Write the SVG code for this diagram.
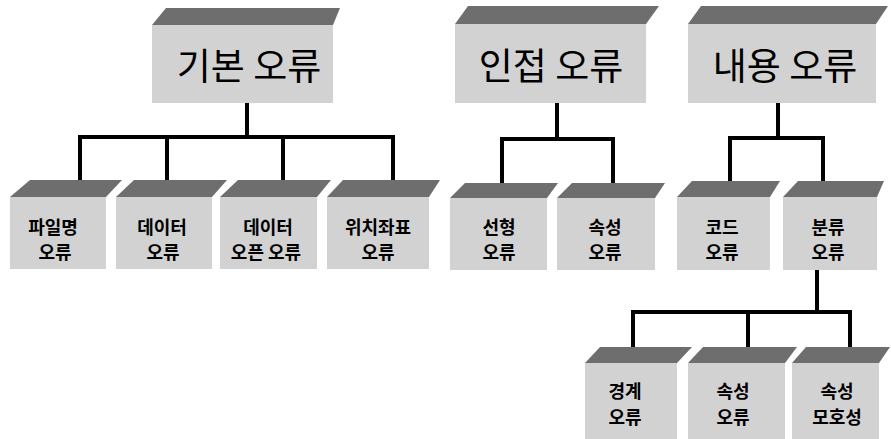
<svg xmlns="http://www.w3.org/2000/svg" width="891" height="439" viewBox="0 0 891 439">
<style>
.front{fill:#d2d2d2}
.top{fill:#6e6e6e}
.t1{font-family:"Noto Sans CJK KR","Noto Sans",sans-serif;font-size:37px;font-weight:400;fill:#000;text-anchor:middle}
.t2{font-family:"Noto Sans CJK KR","Noto Sans",sans-serif;font-size:18px;font-weight:700;fill:#000;text-anchor:middle}
.conn{fill:none;stroke:#000;stroke-width:4;stroke-linejoin:miter;stroke-linecap:butt}
</style>
<rect width="891" height="439" fill="#fff"/>
<g id="connectors" class="conn">
<path d="M247,103 V137 M80,181 V137 H393 V181 M167,137 V181 M283,137 V181"/>
<path d="M557,103 V139 M502,183 V139 H613 V183"/>
<path d="M778,103 V138 M730,181 V138 H823 V181"/>
<path d="M817,270 V312 M633,347 V312 H850 V347 M748,312 V347"/>
</g>
<g id="n-basic">
<polygon class="top" points="152,25 166,8 340,8 333,25"/>
<rect class="front" x="152" y="25" width="181" height="78"/>
<text class="t1" x="249" y="80">기본 오류</text>
</g>
<g id="n-adjacent">
<polygon class="top" points="455,24 468,6 659,6 646,24"/>
<rect class="front" x="455" y="24" width="191" height="79"/>
<text class="t1" x="551" y="80">인접 오류</text>
</g>
<g id="n-content">
<polygon class="top" points="688,24 701,6 888,6 876,24"/>
<rect class="front" x="688" y="24" width="188" height="79"/>
<text class="t1" x="785" y="80">내용 오류</text>
</g>
<g id="n-filename">
<polygon class="top" points="10,197 30,180 122,180 106,197"/>
<rect class="front" x="10" y="197" width="96" height="72"/>
<text class="t2" x="53" y="234">파일명</text>
<text class="t2" x="55" y="259">오류</text>
</g>
<g id="n-data">
<polygon class="top" points="116,197 134,180 227,180 212,197"/>
<rect class="front" x="116" y="197" width="96" height="72"/>
<text class="t2" x="162" y="234">데이터</text>
<text class="t2" x="163" y="259">오류</text>
</g>
<g id="n-dataopen">
<polygon class="top" points="220,197 238,180 331,180 317,197"/>
<rect class="front" x="220" y="197" width="97" height="72"/>
<text class="t2" x="268" y="234">데이터</text>
<text class="t2" x="266" y="259">오픈 오류</text>
</g>
<g id="n-position">
<polygon class="top" points="327,197 343,180 440,180 429,197"/>
<rect class="front" x="327" y="197" width="102" height="72"/>
<text class="t2" x="378" y="234">위치좌표</text>
<text class="t2" x="378" y="259">오류</text>
</g>
<g id="n-linear">
<polygon class="top" points="450,198 465,183 558,183 547,198"/>
<rect class="front" x="450" y="198" width="97" height="72"/>
<text class="t2" x="499" y="234">선형</text>
<text class="t2" x="499" y="259">오류</text>
</g>
<g id="n-attr1">
<polygon class="top" points="557,198 572,183 665,183 655,198"/>
<rect class="front" x="557" y="198" width="98" height="72"/>
<text class="t2" x="605" y="234">속성</text>
<text class="t2" x="605" y="259">오류</text>
</g>
<g id="n-code">
<polygon class="top" points="677,197 692,181 780,181 770,197"/>
<rect class="front" x="677" y="197" width="93" height="73"/>
<text class="t2" x="722" y="234">코드</text>
<text class="t2" x="722" y="259">오류</text>
</g>
<g id="n-class">
<polygon class="top" points="783,197 798,181 884,181 877,197"/>
<rect class="front" x="783" y="197" width="94" height="73"/>
<text class="t2" x="828" y="234">분류</text>
<text class="t2" x="828" y="259">오류</text>
</g>
<g id="n-boundary">
<polygon class="top" points="585,363 600,347 692,347 677,363"/>
<rect class="front" x="585" y="363" width="92" height="76"/>
<text class="t2" x="625" y="398">경계</text>
<text class="t2" x="625" y="424">오류</text>
</g>
<g id="n-attr2">
<polygon class="top" points="688,363 703,347 797,347 785,363"/>
<rect class="front" x="688" y="363" width="97" height="76"/>
<text class="t2" x="733" y="398">속성</text>
<text class="t2" x="733" y="424">오류</text>
</g>
<g id="n-ambig">
<polygon class="top" points="792,363 806,347 890,347 879,363"/>
<rect class="front" x="792" y="363" width="87" height="76"/>
<text class="t2" x="837" y="398">속성</text>
<text class="t2" x="837" y="424">모호성</text>
</g>
</svg>
